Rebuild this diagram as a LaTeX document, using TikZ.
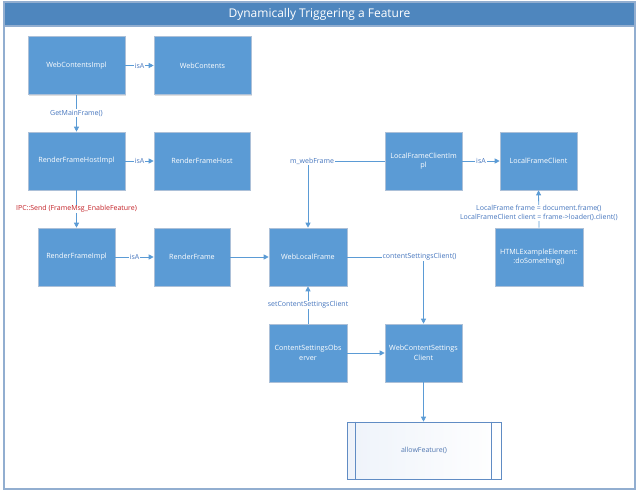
\documentclass[tikz,border=0pt]{standalone}
\usepackage{fontspec}
\setmainfont{Open Sans}
\usetikzlibrary{arrows.meta,shadows}

\definecolor{boxblue}{RGB}{91,155,213}
\definecolor{boxedge}{RGB}{172,192,216}
\definecolor{titleblue}{RGB}{78,134,190}
\definecolor{frameblue}{RGB}{146,174,208}
\definecolor{lineblue}{RGB}{91,155,213}
\definecolor{lblblue}{RGB}{70,118,190}
\definecolor{lblred}{RGB}{196,34,40}
\definecolor{procedge}{RGB}{96,140,196}
\definecolor{procfill}{RGB}{238,243,250}

\begin{document}
\begin{tikzpicture}[
      x=1pt, y=-1pt,
      box/.style={rectangle, draw=boxedge, fill=boxblue, text=white, line width=0.6pt, minimum width=77pt, minimum height=58pt, align=center, inner sep=1pt, font=\fontsize{7.2}{9.5}\selectfont, drop shadow={shadow xshift=1pt, shadow yshift=-1pt, opacity=0.25}},
      wide/.style={box, minimum width=97pt},
      arrow/.style={-{Triangle[length=5pt,width=5pt]}, draw=lineblue, line width=0.8pt},
      lbl/.style={fill=white, text=lblblue, inner sep=0.8pt, font=\fontsize{7}{9}\selectfont},
      frame/.style={draw=frameblue, line width=1.2pt}
    ]
    \useasboundingbox (0,0) rectangle (640,495);

    % title bar and outer frame
    \node[rectangle, fill=titleblue, text=white, minimum width=631pt, minimum height=24pt, inner sep=0pt, font=\fontsize{12}{14}\selectfont] (title) at (319.5,14) {Dynamically Triggering a Feature};
    \draw[frame] (4,2) rectangle (635,489);
    \draw[frame] (4,26) -- (635,26);

    \node[wide] (wcimpl)  at (76.5,65.5) {WebContentsImpl};
    \node[wide] (wc)      at (202.5,65.5) {WebContents};
    \node[wide] (rfhimpl) at (76.5,161) {RenderFrameHostImpl};
    \node[wide, minimum width=96pt] (rfh) at (202,161) {RenderFrameHost};

    \node[box] (rfimpl)  at (76.5,257) {RenderFrameImpl};
    \node[box, minimum width=76pt] (rf) at (192,257) {RenderFrame};
    \node[box, minimum width=78pt] (wlf) at (308,257) {WebLocalFrame};
    \node[box] (lfcimpl) at (423.5,161) {LocalFrameClientIm\\pl};
    \node[box] (lfc)     at (538.5,161) {LocalFrameClient};
    \node[box, minimum width=88pt] (htmlel) at (539,257) {HTMLExampleElement:\\:doSomething()};
    \node[box, minimum width=78pt] (cso) at (308,353) {ContentSettingsObs\\erver};
    \node[box] (wcsc)    at (423.5,353) {WebContentSettings\\Client};

    % predefined process box
    \node[rectangle, draw=procedge, line width=0.6pt, left color=procfill, right color=white, minimum width=154pt, minimum height=57pt, text=lblblue!80!gray, font=\fontsize{7}{9}\selectfont] (allow) at (424,450.5) {allowFeature()};
    \draw[procedge, line width=0.6pt] ([xshift=9pt]allow.north west) -- ([xshift=9pt]allow.south west);
    \draw[procedge, line width=0.6pt] ([xshift=-10pt]allow.north east) -- ([xshift=-10pt]allow.south east);

    \draw[arrow] (wcimpl) -- node[lbl] {isA} (wc);
    \draw[arrow] (wcimpl) -- node[lbl] {GetMainFrame()} (rfhimpl);
    \draw[arrow] (rfhimpl) -- node[lbl] {isA} (rfh);
    \draw[arrow] (rfhimpl.south) -- node[lbl, text=lblred] {IPC::Send (FrameMsg\_EnableFeature)} (rfimpl.north -| rfhimpl.south);
    \draw[arrow] (rfimpl) -- node[lbl] {isA} (rf);
    \draw[arrow] (rf) -- (wlf);
    \draw[arrow] (lfcimpl.west) -| node[lbl, pos=0.5, xshift=4pt] {m\_webFrame} (wlf.north);
    \draw[arrow] (lfcimpl) -- node[lbl] {isA} (lfc);
    \draw[arrow] (htmlel.north) -- node[lbl, pos=0.4, align=center, inner sep=0.5pt] {LocalFrame frame = document.frame()\\LocalFrameClient client = frame->loader().client()} (lfc.south);
    \draw[arrow] (wlf.east) -| node[lbl, pos=0.5, xshift=-4pt] {contentSettingsClient()} (wcsc.north);
    \draw[arrow] (cso) -- node[lbl] {setContentSettingsClient} (wlf);
    \draw[arrow] (cso) -- (wcsc);
    \draw[arrow] (wcsc.south) -- (allow.north -| wcsc.south);

  \end{tikzpicture}
\end{document}
